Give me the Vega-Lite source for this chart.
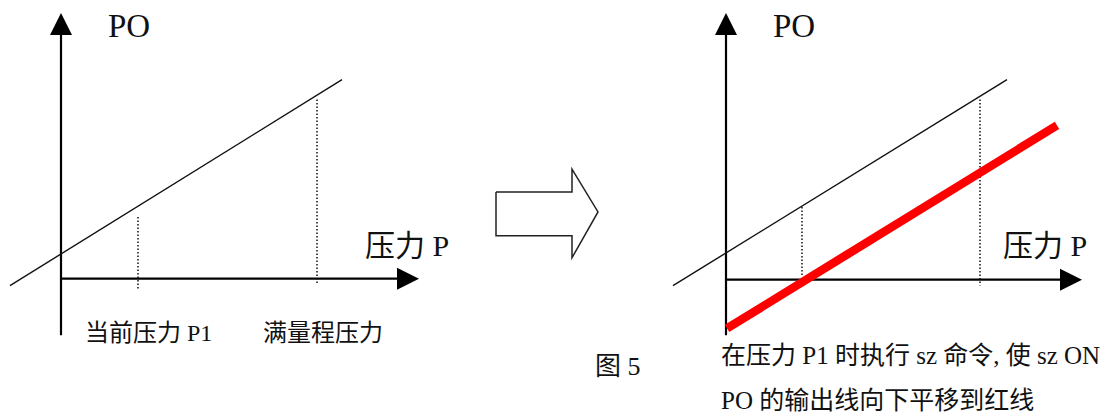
{
  "$schema": "https://vega.github.io/schema/vega-lite/v6.json",
  "width": 1101,
  "height": 414,
  "padding": 0,
  "autosize": {"type": "fit", "contains": "padding"},
  "background": "white",
  "config": {"view": {"stroke": null}},
  "datasets": {
    "lines": [
      {"seg": "L-y", "kind": "axis", "ord": 0, "x": 61, "y": 30},
      {"seg": "L-y", "kind": "axis", "ord": 1, "x": 61, "y": 337},
      {"seg": "L-x", "kind": "axis", "ord": 0, "x": 61, "y": 280},
      {"seg": "L-x", "kind": "axis", "ord": 1, "x": 400, "y": 280},
      {"seg": "R-y", "kind": "axis", "ord": 0, "x": 726, "y": 30},
      {"seg": "R-y", "kind": "axis", "ord": 1, "x": 726, "y": 337},
      {"seg": "R-x", "kind": "axis", "ord": 0, "x": 726, "y": 281},
      {"seg": "R-x", "kind": "axis", "ord": 1, "x": 1062, "y": 281},
      {"seg": "L-s", "kind": "slope", "ord": 0, "x": 10, "y": 287},
      {"seg": "L-s", "kind": "slope", "ord": 1, "x": 342, "y": 80},
      {"seg": "R-s", "kind": "slope", "ord": 0, "x": 673, "y": 287},
      {"seg": "R-s", "kind": "slope", "ord": 1, "x": 1007, "y": 80},
      {"seg": "L-d1", "kind": "dot", "ord": 0, "x": 138, "y": 218},
      {"seg": "L-d1", "kind": "dot", "ord": 1, "x": 138, "y": 290},
      {"seg": "L-d2", "kind": "dot", "ord": 0, "x": 317, "y": 100},
      {"seg": "L-d2", "kind": "dot", "ord": 1, "x": 317, "y": 286},
      {"seg": "R-d1", "kind": "dot", "ord": 0, "x": 802, "y": 208},
      {"seg": "R-d1", "kind": "dot", "ord": 1, "x": 802, "y": 277},
      {"seg": "R-d2", "kind": "dot", "ord": 0, "x": 980, "y": 100},
      {"seg": "R-d2", "kind": "dot", "ord": 1, "x": 980, "y": 287},
      {"seg": "R-r", "kind": "red", "ord": 0, "x": 727, "y": 330},
      {"seg": "R-r", "kind": "red", "ord": 1, "x": 1057, "y": 126},
      {"seg": "arrow", "kind": "outline", "ord": 0, "x": 496, "y": 193},
      {"seg": "arrow", "kind": "outline", "ord": 1, "x": 572, "y": 193},
      {"seg": "arrow", "kind": "outline", "ord": 2, "x": 572, "y": 170},
      {"seg": "arrow", "kind": "outline", "ord": 3, "x": 598, "y": 213},
      {"seg": "arrow", "kind": "outline", "ord": 4, "x": 572, "y": 259},
      {"seg": "arrow", "kind": "outline", "ord": 5, "x": 572, "y": 237},
      {"seg": "arrow", "kind": "outline", "ord": 6, "x": 496, "y": 237},
      {"seg": "arrow", "kind": "outline", "ord": 7, "x": 496, "y": 193}
    ],
    "heads": [
      {"x": 61, "y": 24, "dir": "up"},
      {"x": 408, "y": 280, "dir": "right"},
      {"x": 726, "y": 24, "dir": "up"},
      {"x": 1071, "y": 281, "dir": "right"}
    ],
    "labels": [
      {"x": 108, "y": 37, "text": "PO", "kind": "po"},
      {"x": 773, "y": 37, "text": "PO", "kind": "po"},
      {"x": 365, "y": 248, "text": "压力 P", "kind": "axis"},
      {"x": 1003, "y": 248, "text": "压力 P", "kind": "axis"},
      {"x": 85, "y": 336, "text": "当前压力 P1", "kind": "tick"},
      {"x": 263, "y": 336, "text": "满量程压力", "kind": "tick"},
      {"x": 595, "y": 369, "text": "图  5", "kind": "fig"},
      {"x": 721, "y": 358, "text": "在压力 P1 时执行 sz 命令, 使 sz ON", "kind": "note"},
      {"x": 721, "y": 403, "text": "PO 的输出线向下平移到红线", "kind": "note"}
    ]
  },
  "encoding": {
    "x": {"field": "x", "type": "quantitative", "scale": {"domain": [0, 1101], "nice": false, "zero": false}, "axis": null},
    "y": {"field": "y", "type": "quantitative", "scale": {"domain": [0, 414], "nice": false, "zero": false, "reverse": true}, "axis": null}
  },
  "layer": [
    {
      "data": {"name": "lines"},
      "transform": [{"filter": "datum.kind === 'outline'"}],
      "mark": {"type": "line", "color": "#222", "strokeWidth": 1.5, "strokeJoin": "miter"},
      "encoding": {"detail": {"field": "seg"}, "order": {"field": "ord", "type": "quantitative"}}
    },
    {
      "data": {"name": "lines"},
      "transform": [{"filter": "datum.kind === 'axis'"}],
      "mark": {"type": "line", "color": "#000", "strokeWidth": 2.2},
      "encoding": {"detail": {"field": "seg"}, "order": {"field": "ord", "type": "quantitative"}}
    },
    {
      "data": {"name": "lines"},
      "transform": [{"filter": "datum.kind === 'slope'"}],
      "mark": {"type": "line", "color": "#111", "strokeWidth": 1.4},
      "encoding": {"detail": {"field": "seg"}, "order": {"field": "ord", "type": "quantitative"}}
    },
    {
      "data": {"name": "lines"},
      "transform": [{"filter": "datum.kind === 'dot'"}],
      "mark": {"type": "line", "color": "#111", "strokeWidth": 1.5, "strokeDash": [1.5, 2]},
      "encoding": {"detail": {"field": "seg"}, "order": {"field": "ord", "type": "quantitative"}}
    },
    {
      "data": {"name": "lines"},
      "transform": [{"filter": "datum.kind === 'red'"}],
      "mark": {"type": "line", "color": "#ff0000", "strokeWidth": 8.5},
      "encoding": {"detail": {"field": "seg"}, "order": {"field": "ord", "type": "quantitative"}}
    },
    {
      "data": {"name": "heads"},
      "transform": [{"filter": "datum.dir === 'up'"}],
      "mark": {"type": "point", "shape": "M0,-1L-1,1L1,1Z", "filled": true, "color": "#000", "opacity": 1, "size": 484}
    },
    {
      "data": {"name": "heads"},
      "transform": [{"filter": "datum.dir === 'right'"}],
      "mark": {"type": "point", "shape": "M1,0L-1,-1L-1,1Z", "filled": true, "color": "#000", "opacity": 1, "size": 484}
    },
    {
      "data": {"name": "labels"},
      "transform": [{"filter": "datum.kind === 'po'"}],
      "mark": {"type": "text", "align": "left", "baseline": "alphabetic", "font": "'Liberation Serif', 'Noto Sans CJK SC'", "fontSize": 33, "color": "#111"},
      "encoding": {"text": {"field": "text"}}
    },
    {
      "data": {"name": "labels"},
      "transform": [{"filter": "datum.kind === 'axis'"}],
      "mark": {"type": "text", "align": "left", "baseline": "middle", "font": "'Liberation Serif', 'Noto Sans CJK SC'", "fontSize": 30, "color": "#111"},
      "encoding": {"text": {"field": "text"}}
    },
    {
      "data": {"name": "labels"},
      "transform": [{"filter": "datum.kind === 'tick'"}],
      "mark": {"type": "text", "align": "left", "baseline": "middle", "font": "'Liberation Serif', 'Noto Sans CJK SC'", "fontSize": 24, "color": "#111"},
      "encoding": {"text": {"field": "text"}}
    },
    {
      "data": {"name": "labels"},
      "transform": [{"filter": "datum.kind === 'fig'"}],
      "mark": {"type": "text", "align": "left", "baseline": "middle", "font": "'Liberation Serif', 'Noto Sans CJK SC'", "fontSize": 26, "color": "#111"},
      "encoding": {"text": {"field": "text"}}
    },
    {
      "data": {"name": "labels"},
      "transform": [{"filter": "datum.kind === 'note'"}],
      "mark": {"type": "text", "align": "left", "baseline": "middle", "font": "'Liberation Serif', 'Noto Sans CJK SC'", "fontSize": 25, "color": "#111"},
      "encoding": {"text": {"field": "text"}}
    }
  ]
}
